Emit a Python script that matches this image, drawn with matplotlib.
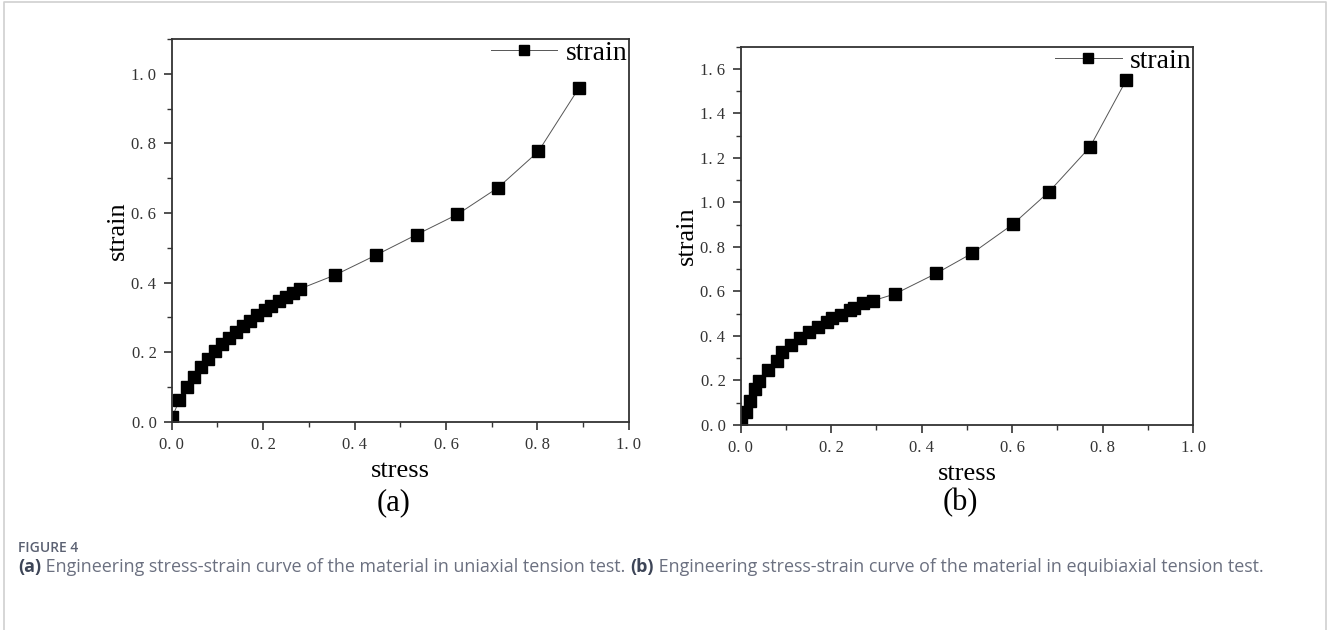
import matplotlib
matplotlib.use("Agg")
import matplotlib.pyplot as plt
from matplotlib.ticker import MultipleLocator, FuncFormatter
from matplotlib.lines import Line2D

# (a) uniaxial tension
stress_a = [0.001, 0.017, 0.033, 0.048, 0.063, 0.079, 0.095, 0.110, 0.125, 0.141,
            0.157, 0.172, 0.187, 0.203, 0.218, 0.234, 0.250, 0.266, 0.281,
            0.358, 0.447, 0.536, 0.625, 0.714, 0.802, 0.891]
strain_a = [0.014, 0.062, 0.099, 0.128, 0.156, 0.180, 0.203, 0.223, 0.241, 0.259,
            0.275, 0.290, 0.306, 0.320, 0.333, 0.346, 0.358, 0.371, 0.382,
            0.422, 0.479, 0.538, 0.596, 0.673, 0.777, 0.960]

# (b) equibiaxial tension
stress_b = [0.001, 0.011, 0.021, 0.032, 0.041, 0.061, 0.081, 0.091, 0.110, 0.130,
            0.151, 0.171, 0.191, 0.201, 0.221, 0.241, 0.251, 0.271, 0.292,
            0.341, 0.432, 0.511, 0.601, 0.682, 0.772, 0.852]
strain_b = [0.018, 0.058, 0.109, 0.160, 0.198, 0.249, 0.289, 0.327, 0.361, 0.390,
            0.418, 0.441, 0.462, 0.480, 0.496, 0.516, 0.526, 0.546, 0.558,
            0.589, 0.681, 0.771, 0.901, 1.049, 1.249, 1.549]

panels = [
    dict(x=stress_a, y=strain_a, ylim=1.1, rect=[0.1293, 0.3306, 0.3443, 0.6075], tag="(a)"),
    dict(x=stress_b, y=strain_b, ylim=1.7, rect=[0.5578, 0.3254, 0.3406, 0.6005], tag="(b)"),
]

serif = "Liberation Serif"
fig = plt.figure(figsize=(13.28, 6.30), dpi=100)

fmt = FuncFormatter(lambda v, pos: f"{v:.1f}".replace(".", ". "))

for p in panels:
    ax = fig.add_axes(p["rect"])
    ax.plot(p["x"], p["y"], color="#555555", lw=0.7, marker="s", ms=8,
            mfc="black", mec="black", label="strain")
    ax.set_xlim(0, 1.0)
    ax.set_ylim(0, p["ylim"])
    ax.xaxis.set_major_locator(MultipleLocator(0.2))
    ax.xaxis.set_minor_locator(MultipleLocator(0.1))
    ax.yaxis.set_major_locator(MultipleLocator(0.2))
    ax.yaxis.set_minor_locator(MultipleLocator(0.1))
    ax.xaxis.set_major_formatter(fmt)
    ax.yaxis.set_major_formatter(fmt)
    ax.tick_params(which="major", direction="out", length=6, width=1.2,
                   colors="#333333", labelsize=12, pad=5)
    ax.tick_params(which="minor", direction="out", length=3.5, width=1.0, colors="#333333")
    for lab in ax.get_xticklabels() + ax.get_yticklabels():
        lab.set_fontfamily(serif)
    for s in ax.spines.values():
        s.set_linewidth(1.3)
        s.set_color("#333333")
    ax.set_xlabel("stress", fontfamily=serif, fontsize=19, labelpad=5)
    ax.set_ylabel("strain", fontfamily=serif, fontsize=19, labelpad=2)
    handle = Line2D([], [], color="#555555", lw=0.7, marker="s", ms=7.5,
                    mfc="black", mec="black")
    ax.legend([handle], ["strain"], loc="upper right", frameon=False,
              prop={"family": serif, "size": 20}, handlelength=2.4,
              borderaxespad=-0.35, handletextpad=0.3)
    cx = p["rect"][0] + p["rect"][2] / 2
    fig.text(cx - 0.005, 1 - 503 / 630, p["tag"], fontfamily=serif, fontsize=22,
             ha="center", va="center")

# caption
sans = "Open Sans"
fig.text(18 / 1328, 1 - 548 / 630, "FIGURE 4", fontfamily=sans, fontsize=10,
         fontweight="semibold", color="#5b6172", va="center")

parts = [
    ("(a)", "bold", "#3d4557"),
    (" Engineering stress-strain curve of the material in uniaxial tension test. ", "normal", "#6b7080"),
    ("(b)", "bold", "#3d4557"),
    (" Engineering stress-strain curve of the material in equibiaxial tension test.", "normal", "#6b7080"),
]
renderer = fig.canvas.get_renderer()
xpos = 18.0
for txt, weight, col in parts:
    t = fig.text(xpos / 1328, 1 - 567 / 630, txt, fontfamily=sans, fontsize=12.9,
                 fontweight=weight, color=col, va="center")
    bb = t.get_window_extent(renderer=renderer)
    xpos += bb.width

# light frame around the figure
frame = Line2D([4 / 1328, 4 / 1328, 1326 / 1328, 1326 / 1328],
               [0, 1 - 2 / 630, 1 - 2 / 630, 0],
               transform=fig.transFigure, color="#d0d0d0", lw=1.2)
fig.add_artist(frame)

fig.savefig("out.png", dpi=100)
